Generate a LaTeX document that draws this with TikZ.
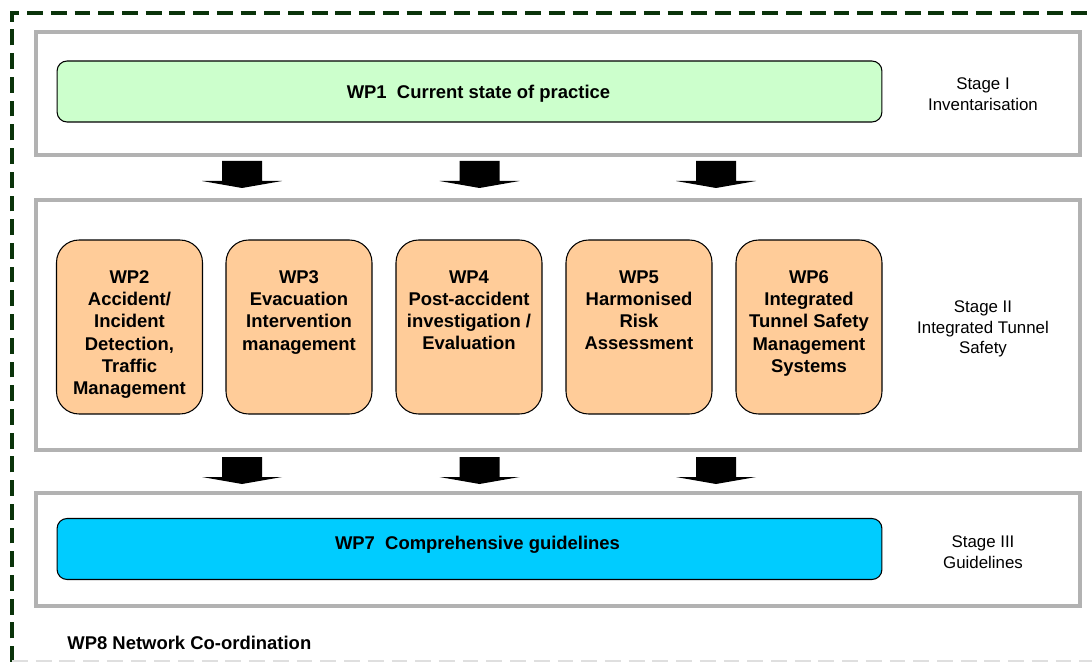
\documentclass[tikz,border=0pt]{standalone}
\usepackage{fontspec}
\setmainfont{Liberation Sans}
\usetikzlibrary{positioning}
\definecolor{wpgreen}{HTML}{CCFFCC}
\definecolor{wporange}{HTML}{FFCC99}
\definecolor{wpblue}{HTML}{00CCFF}
\definecolor{netgreen}{HTML}{0A330A}
\tikzset {
    stage box/.style={
        draw=gray!60,
        line width=2pt,
        fill=white,
        rectangle, % outer frame of a stage
        minimum width=20.88cm,
    },
    wide box/.style={
        draw=black,
        semithick,
        rectangle,
        rounded corners=.2cm,
        minimum width=16.5cm,
        minimum height=1.22cm,
    },
    wp box/.style={
        fill=wporange,
        draw=black,
        semithick,
        rectangle,
        rounded corners=.45cm,
        minimum width=2.92cm,
        minimum height=3.48cm,
    },
    wp text/.style={
        font=\bfseries\fontsize{10.5}{12.6}\selectfont,
        align=center,
        inner sep=0pt,
    },
    stage text/.style={
        font=\fontsize{9.6}{11.8}\selectfont,
        align=center,
    },
}

\begin{document}
\begin{tikzpicture}[x=0.02cm, y=-0.02cm]
\useasboundingbox (0,0) rectangle (1092,662);

% network co-ordination frame
\draw[netgreen, line width=2.2pt, dash pattern=on 9pt off 4.5pt] (12,662) -- (12,13) -- (1092,13);
\draw[gray!25, line width=1.5pt, dash pattern=on 9pt off 4.5pt] (12,661) -- (1092,661);

% stages
\node[stage box, minimum height=2.46cm] at (558, 93.5) (stage1) {};
\node[stage box, minimum height=5cm] at (558, 325) (stage2) {};
\node[stage box, minimum height=2.26cm] at (558, 549.5) (stage3) {};

\node[stage text] at (983, 94) (stage1t) {Stage I\\Inventarisation};
\node[stage text] at (983, 329) (stage2t) {Stage II\\Integrated Tunnel\\Safety};
\node[stage text] at (983, 552) (stage3t) {Stage III\\Guidelines};

% work packages
\node[wide box, fill=wpgreen] at (469.5, 91.5) (wp1) {};
\node[wp text] at (478.5, 94) (wp1t) {WP1~~Current state of practice};

\node[wp box] at (129.5, 327) (wp2) {};
\node[wp box] at (299, 327) (wp3) {};
\node[wp box] at (469, 327) (wp4) {};
\node[wp box] at (639, 327) (wp5) {};
\node[wp box] at (809, 327) (wp6) {};
\node[wp text, below=0.62cm of wp2.north] (wp2t) {WP2\\Accident/\\Incident\\Detection,\\Traffic\\Management};
\node[wp text, below=0.62cm of wp3.north] (wp3t) {WP3\\Evacuation\\Intervention\\management};
\node[wp text, below=0.62cm of wp4.north] (wp4t) {WP4\\Post-accident\\investigation /\\Evaluation};
\node[wp text, below=0.62cm of wp5.north] (wp5t) {WP5\\Harmonised\\Risk\\Assessment};
\node[wp text, below=0.62cm of wp6.north] (wp6t) {WP6\\Integrated\\Tunnel Safety\\Management\\Systems};

\node[wide box, fill=wpblue] at (469.5, 549) (wp7) {};
\node[wp text] at (477.5, 545) (wp7t) {WP7~~Comprehensive guidelines};

\node[wp text, anchor=west] at (67, 643) (wp8t) {WP8 Network Co-ordination};

% block arrows between the stages
\foreach \y in {161, 457}
  \foreach \c in {242, 479.5, 716}
    \fill[black] (\c-20,\y) -- (\c+20,\y) -- (\c+20,\y+20) -- (\c+40,\y+20)
      -- (\c,\y+27) -- (\c-40,\y+20) -- (\c-20,\y+20) -- cycle;
\end{tikzpicture}
\end{document}
